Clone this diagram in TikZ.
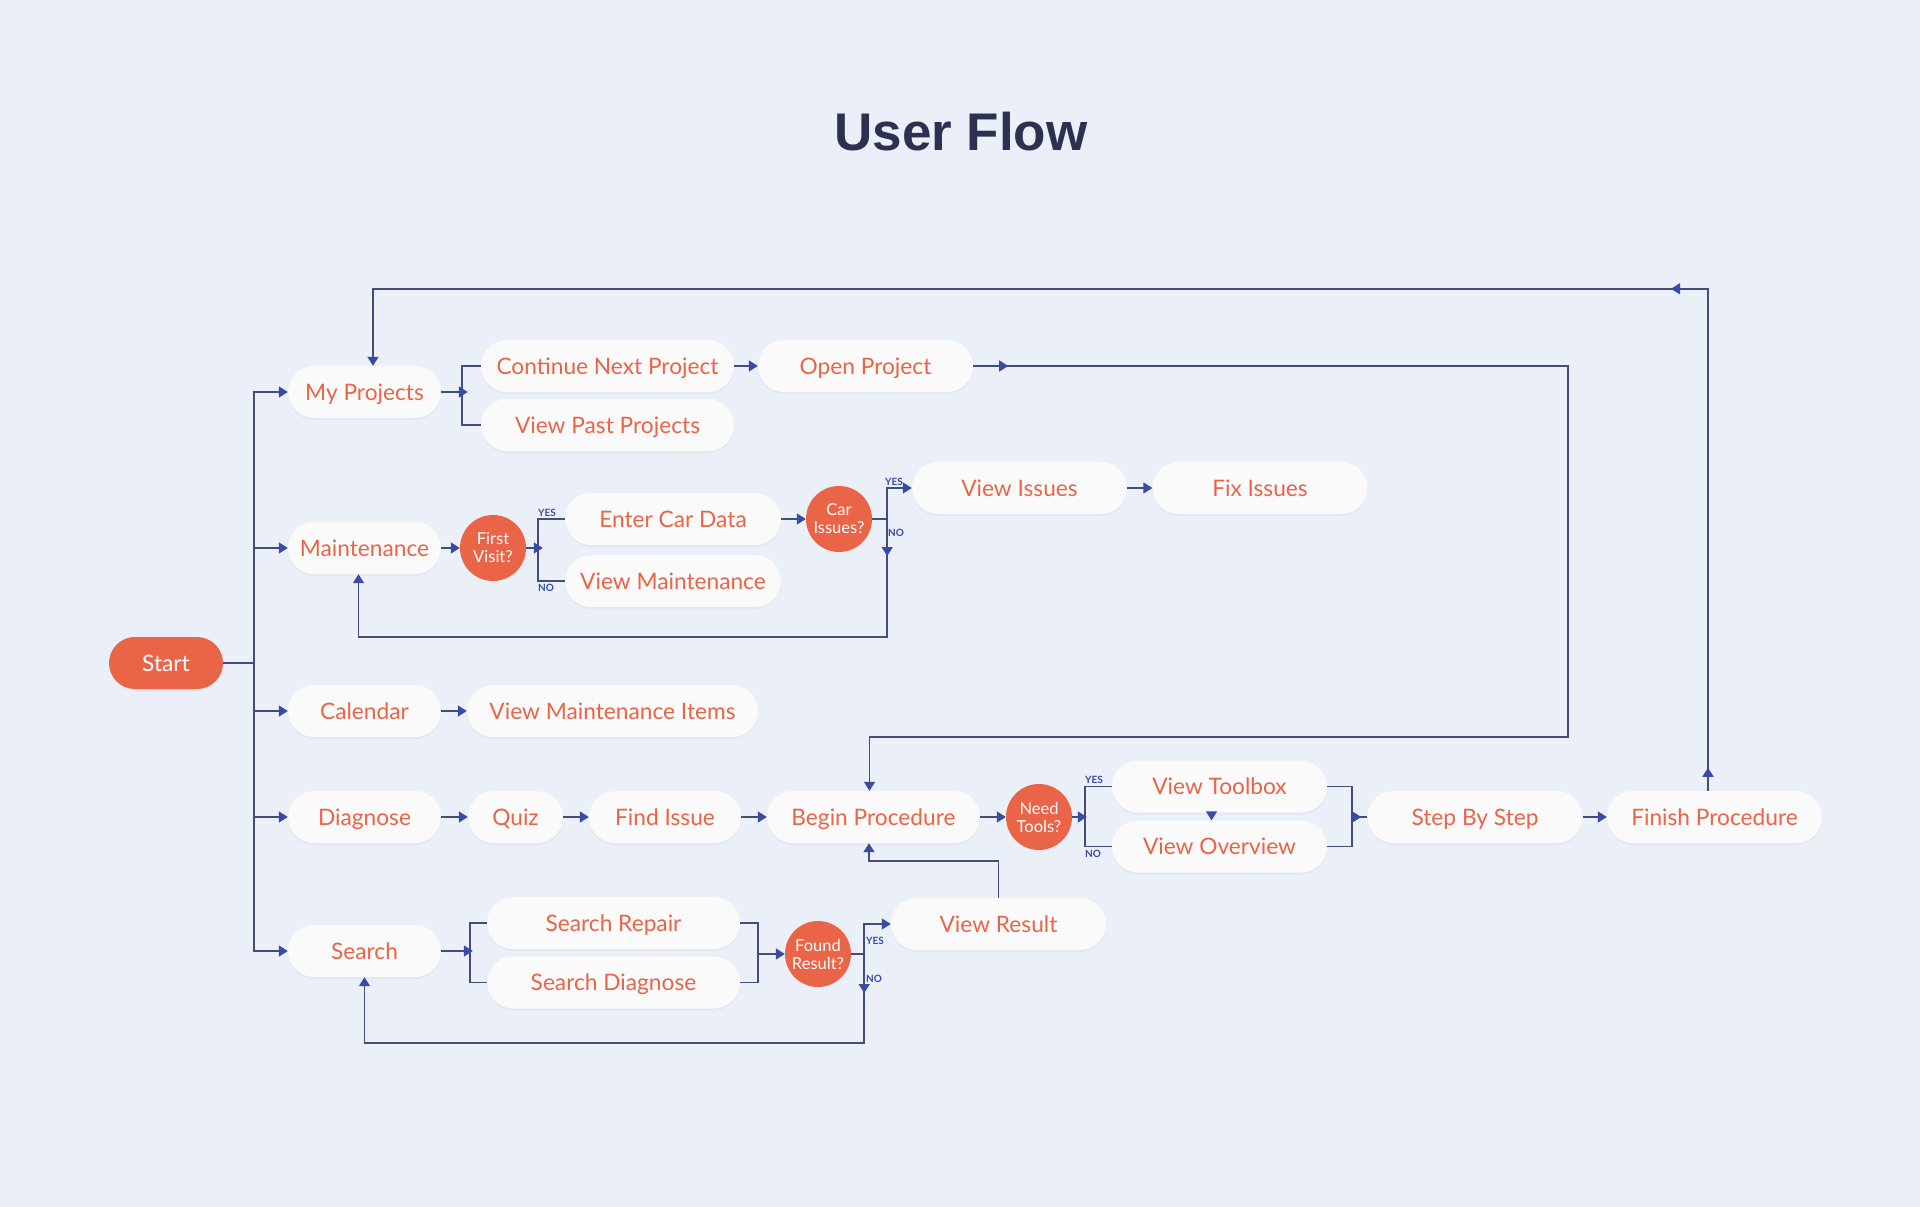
\documentclass[tikz,border=0pt]{standalone}
\usepackage{fontspec}
\setmainfont{Lato}
\newfontfamily\titulo{Liberation Sans}
\usepackage{tikz}
\usetikzlibrary{positioning,arrows.meta,decorations.markings,shadows}
\definecolor{fondo}{RGB}{234,239,248}
\definecolor{acento}{RGB}{234,100,72}
\definecolor{trazo}{RGB}{66,78,120}
\definecolor{azul}{RGB}{58,75,165}
\definecolor{tinta}{RGB}{46,48,80}
\definecolor{blanco}{RGB}{250,250,250}

\begin{document}
\begin{tikzpicture}[x=1pt, y=-1pt,
  caja/.style={rectangle, rounded corners=26pt, fill=blanco, minimum width=#1,
    minimum height=52pt, inner sep=0pt, text height=16pt, text depth=0pt,
    text=acento, font=\fontsize{22.7}{26}\selectfont,
    drop shadow={shadow xshift=0pt, shadow yshift=-2pt, opacity=0.06}},
  caja/.default=215,
  inicio/.style={caja=114, fill=acento, text=white},
  decision/.style={circle, fill=acento, minimum size=66pt, inner sep=0pt, text=white,
    align=center, font=\fontsize{16.5}{18}\selectfont},
  linea/.style={draw=trazo, line width=1.5pt},
  flecha/.style={linea, -{Triangle[length=9pt, width=11pt, color=azul]}},
  medio/.style={postaction={decorate, decoration={markings,
    mark=at position #1 with {\arrow{Triangle[length=9pt, width=11pt, color=azul]}}}}},
  etiq/.style={font=\fontsize{10}{10}\selectfont\bfseries, text=azul, inner sep=1pt},
]
\fill[fondo] (0,0) rectangle (1920,1207);
\node[font=\titulo\bfseries\fontsize{53}{60}\selectfont, text=tinta] (titulo) at (961,132) {User Flow};

\node[inicio] (inicio) at (166,663) {Start};
\foreach \nom/\y/\txt in {misproy/392/My Projects, mant/548/Maintenance, agenda/711/Calendar,
    diag/817/Diagnose, busc/951/Search} {
  \node[caja=153] (\nom) at (364.5,\y) {\txt};
  \draw[flecha] (inicio.east) -- ++(31,0) |- (\nom.west);
}

\node[caja=253] (contin) at (607.5,366) {Continue Next Project};
\node[caja=253] (pasados) at (607.5,425) {View Past Projects};
\node[caja] (abrir) at (865.5,366) {Open Project};

\node[decision] (visita) at (493,548) {First\\Visit?};
\node[caja=216] (datos) at (673,519) {Enter Car Data};
\node[caja=216] (vermant) at (673,581) {View Maintenance};
\node[decision] (averias) at (839,519) {Car\\Issues?};
\node[caja] (veraver) at (1019.5,488) {View Issues};
\node[caja] (arreglar) at (1260,488) {Fix Issues};

\node[caja=291] (items) at (612.5,711) {View Maintenance Items};

\node[caja=95] (quiz) at (515.5,817) {Quiz};
\node[caja=152] (hallar) at (665,817) {Find Issue};
\node[caja=213] (empezar) at (873.5,817) {Begin Procedure};
\node[decision] (herram) at (1039,817) {Need\\Tools?};
\node[caja] (toolbox) at (1219.5,786.5) {View Toolbox};
\node[caja] (resumen) at (1219.5,846.5) {View Overview};
\node[caja] (pasos) at (1475,817) {Step By Step};
\node[caja] (fin) at (1714.5,817) {Finish Procedure};

\node[caja=253] (reparar) at (613.5,923) {Search Repair};
\node[caja=253] (diagnost) at (613.5,982.5) {Search Diagnose};
\node[decision] (hallado) at (818,954) {Found\\Result?};
\node[caja] (result) at (998.5,924) {View Result};

\foreach \a/\b in {contin/abrir, mant/visita, datos/averias, veraver/arreglar, agenda/items,
    diag/quiz, quiz/hallar, hallar/empezar, empezar/herram, pasos/fin}
  \draw[flecha] (\a.east) -- (\b.west);

\draw[linea] (contin.west) -- ++(-19,0) coordinate (b1) |- (pasados.west);
\draw[flecha] (misproy.east) -- ([xshift=6pt]misproy.east -| b1);

\draw[linea] (datos.west) -- ++(-27,0) coordinate (b2) |- (vermant.west);
\draw[flecha] (visita.east) -- ([xshift=5pt]visita.east -| b2);
\node[etiq, anchor=south west] (si1) at (537,518) {YES};
\node[etiq, anchor=north west] (no1) at (537,583) {NO};

\draw[linea] (averias.east) -- ++(15,0) coordinate (c1);
\draw[flecha] (c1) |- (veraver.west);
\draw[flecha, medio=37pt] (c1) -- ++(0,118) -| ([xshift=-6pt]mant.south);
\node[etiq, anchor=south west] (si2) at (884,487) {YES};
\node[etiq, anchor=north west] (no2) at (887,528) {NO};

\coordinate (giro) at (1568,737);
\draw[flecha, medio=35pt] (abrir.east) -| (giro) -| ([xshift=-4pt]empezar.north);

\draw[linea] (toolbox.west) -- ++(-27,0) coordinate (b3) |- (resumen.west);
\draw[flecha] (herram.east) -- ([xshift=2pt]herram.east -| b3);
\node[etiq, anchor=south west] (si3) at (1084,785) {YES};
\node[etiq, anchor=north west] (no3) at (1084,849) {NO};
\draw[flecha] ([xshift=-8pt]toolbox.south) -- ([xshift=-8pt]resumen.north);
\draw[linea] (toolbox.east) -- ++(25,0) coordinate (b4) |- (resumen.east);
\draw[linea, medio=9pt] (b4 |- pasos.west) -- (pasos.west);

\draw[flecha, medio=23pt, medio=539pt] ([xshift=-6.5pt]fin.north) -- ++(0,-502)
  -| ([xshift=8.5pt]misproy.north);

\draw[linea] (reparar.west) -- ++(-17,0) coordinate (b5) |- (diagnost.west);
\draw[flecha] (busc.east) -- ([xshift=3pt]busc.east -| b5);
\draw[linea] (reparar.east) -- ++(18,0) coordinate (b6) |- (diagnost.east);
\draw[flecha] (b6 |- hallado.west) -- (hallado.west);
\draw[linea] (hallado.east) -- ++(13,0) coordinate (c2);
\draw[flecha] (c2) |- (result.west);
\draw[flecha, medio=39pt] (c2) -- ++(0,89) -| (busc.south);
\node[etiq, anchor=west] (si4) at (865,941) {YES};
\node[etiq, anchor=west] (no4) at (865,979) {NO};

\draw[flecha] (result.north) -- ++(0,-37) -| ([xshift=-4.5pt]empezar.south);
\end{tikzpicture}
\end{document}
